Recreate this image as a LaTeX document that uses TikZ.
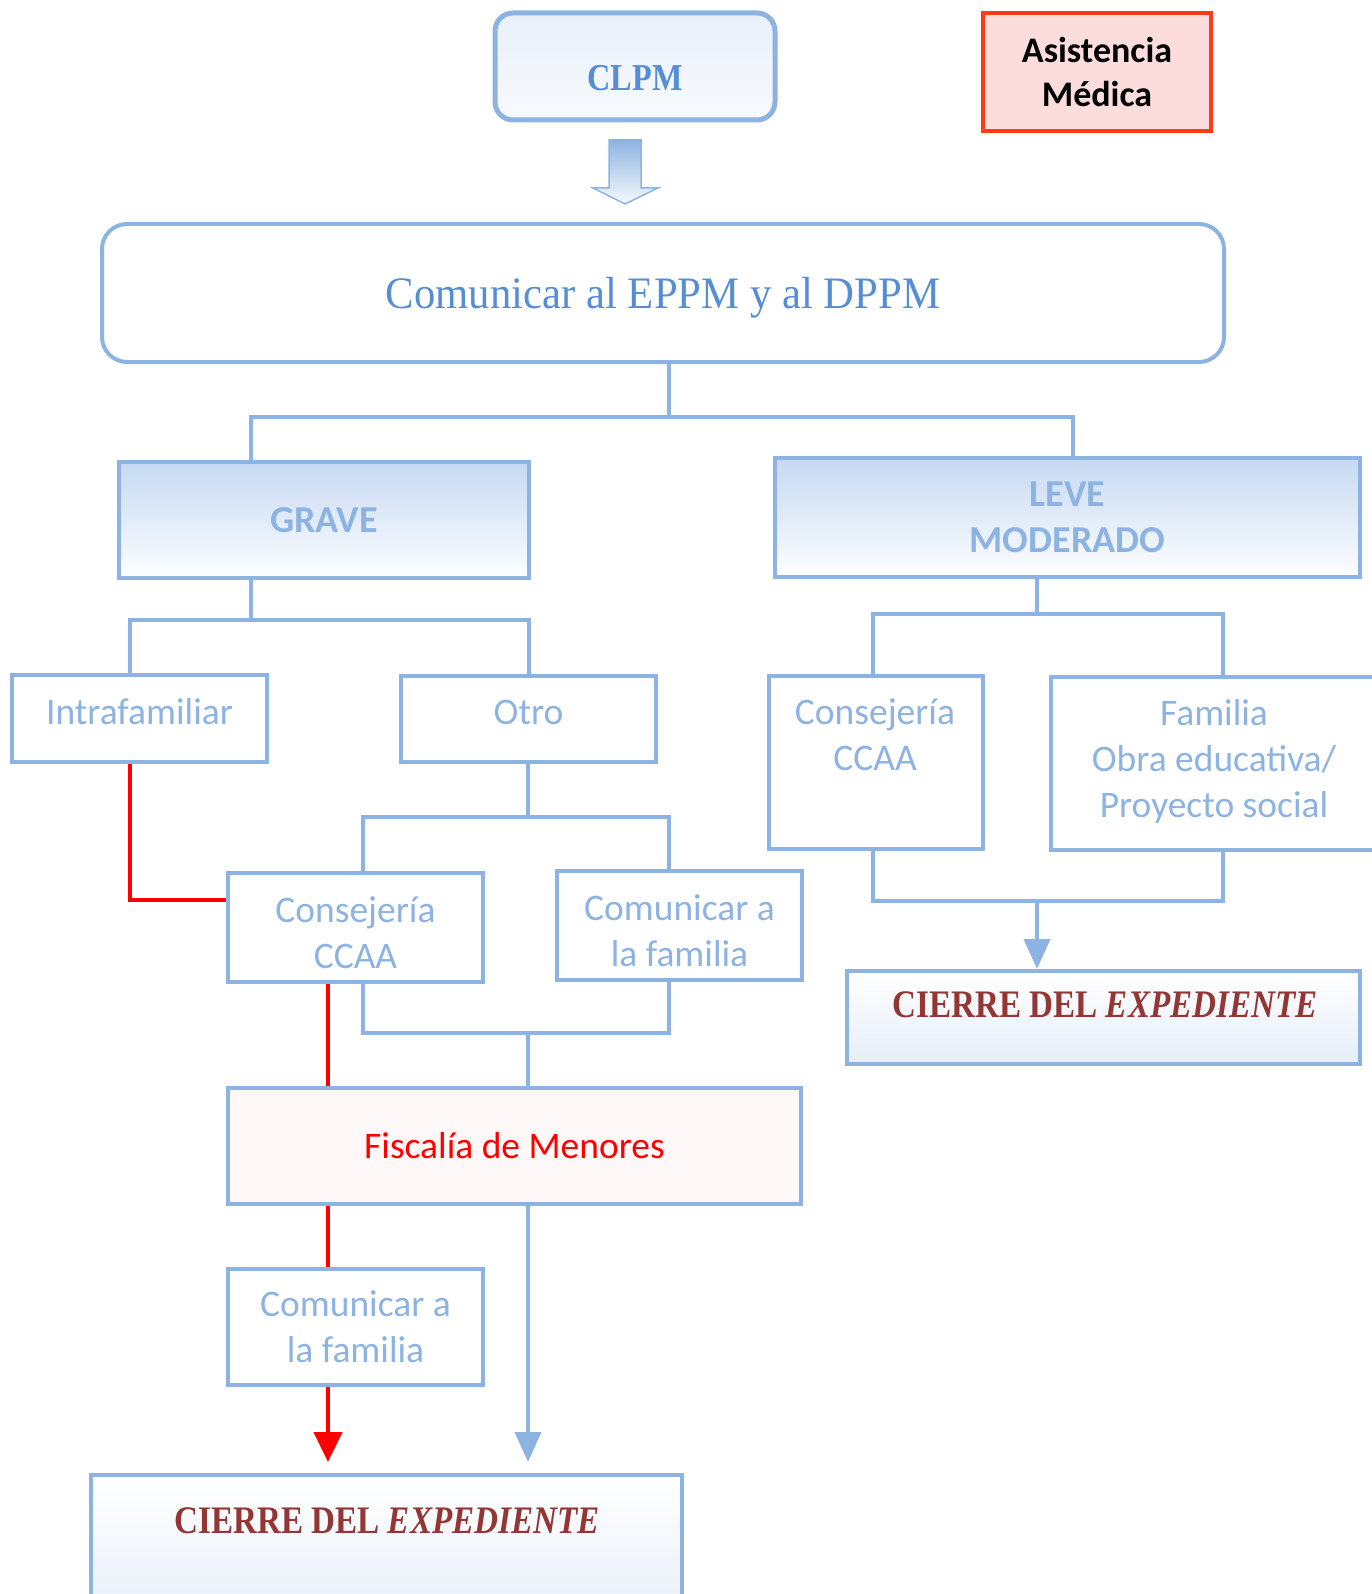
\documentclass[tikz,border=0pt]{standalone}
\usepackage{fontspec}
\usetikzlibrary{arrows.meta,calc}
\newfontfamily\sansf{Carlito}
\newfontfamily\seriff[FakeStretch=0.85]{Liberation Serif}
\newfontfamily\serifr[FakeStretch=0.95]{Liberation Serif}
\definecolor{bl}{HTML}{8DB3E2}
\definecolor{tb}{HTML}{558ED5}
\definecolor{dred}{HTML}{943634}
\definecolor{asisb}{HTML}{FF3A17}
\definecolor{asisf}{HTML}{FDDCDC}
\definecolor{fiscf}{HTML}{FFF8F8}
\definecolor{gtop}{HTML}{C6D9F1}
\begin{document}
\begin{tikzpicture}[x=1pt,y=-1pt,
  box/.style={draw=bl, line width=4pt, inner sep=0pt, align=center,
    font=\sansf\fontsize{37.5}{46}\selectfont, text=bl, fill=white},
  hdr/.style={box, top color=gtop, bottom color=white!97!gtop,
    font=\sansf\bfseries\fontsize{38}{46}\selectfont},
  cierre/.style={box, shading angle=45, top color=white, bottom color=gtop!45!white},
  ctext/.style={font=\seriff\bfseries\fontsize{39}{46}\selectfont, text=dred, inner sep=0pt},
  btext/.style={font=\sansf\fontsize{37.5}{46}\selectfont, text=bl, align=center, inner sep=0pt},
  conn/.style={draw=bl, line width=4pt},
  redl/.style={draw=red, line width=4.5pt},
  tipb/.style={-{Triangle[width=26pt,length=30pt]}},
  tipr/.style={-{Triangle[width=28pt,length=30pt]}}]
\useasboundingbox (0,0) rectangle (1372,1594);
\clip (0,0) rectangle (1372,1594);

% top
\node[box, rounded corners=18pt, line width=5pt, minimum width=280pt, minimum height=107pt,
  top color=gtop!40!white, bottom color=gtop!12!white] (clpm) at (635,66.5) {};
\node[font=\seriff\bfseries\fontsize{38}{46}\selectfont, text=tb, inner sep=0pt] (tclpm) at (635,78) {CLPM};
\shade[top color=bl, bottom color=bl!8!white, draw=bl, line width=1.5pt]
  (609,140) -- (641,140) -- (641,188) -- (658,188) -- (625,204) -- (593,188) -- (609,188) -- cycle;

\node[draw=asisb, line width=3.5pt, fill=asisf, minimum width=228pt, minimum height=118pt,
  inner sep=0pt, align=center, font=\sansf\bfseries\fontsize{36}{44}\selectfont] (asis) at (1097,72)
  {Asistencia\\Médica};

\node[box, rounded corners=25pt, minimum width=1122pt, minimum height=138pt] (com) at (663,293) {};
\node[font=\serifr\fontsize{45}{56}\selectfont, text=tb, inner sep=0pt] (tcom) at (663,298) {Comunicar al EPPM y al DPPM};

% level 2
\node[hdr, minimum width=410pt, minimum height=116pt] (grave) at (324,520) {GRAVE};
\node[hdr, minimum width=585pt, minimum height=119pt] (leve) at (1067.5,517.5) {LEVE\\MODERADO};

\coordinate (j1) at (669,417);
\coordinate (gx) at (251,0);
\coordinate (lx) at (1073,0);
\draw[conn] (com.south -| j1) -- (j1);
\draw[conn] (grave.north -| gx) |- (j1) -| (leve.north -| lx);

% grave branch
\node[box, minimum width=255pt, minimum height=87pt, text depth=14pt] (intra) at (139.5,718.5) {Intrafamiliar};
\node[box, minimum width=255pt, minimum height=86pt, text depth=14pt] (otro) at (528.5,719) {Otro};
\coordinate (j2) at (251,620);
\coordinate (ix) at (130,0);
\coordinate (ox) at (529,0);
\draw[conn] (grave.south -| j2) -- (j2);
\draw[conn] (intra.north -| ix) |- (j2) -| (otro.north -| ox);

\node[box, minimum width=255pt, minimum height=109pt] (cons1) at (355.5,927.5) {};
\node[btext] (tcons1) at (355.5,932.5) {Consejería\\CCAA};
\node[box, minimum width=245pt, minimum height=109pt] (fam1) at (679.5,925.5) {};
\node[btext] (tfam1) at (679.5,930.5) {Comunicar a\\la familia};
\coordinate (j3) at (528,817);
\coordinate (c1x) at (363,0);
\coordinate (f1x) at (669,0);
\draw[conn] (otro.south -| j3) -- (j3);
\draw[conn] (cons1.north -| c1x) |- (j3) -| (fam1.north -| f1x);

\node[box, fill=fiscf, text=red, minimum width=573pt, minimum height=116pt] (fisc) at (514.5,1146) {Fiscalía de Menores};
\coordinate (j4) at (528,1033);
\draw[conn] (cons1.south -| c1x) |- (j4) -| (fam1.south -| f1x);
\draw[conn] (j4) -- (fisc.north -| j4);

\node[box, minimum width=255pt, minimum height=116pt] (fam2) at (355.5,1327) {Comunicar a\\la familia};

\node[cierre, minimum width=591pt, minimum height=165pt] (cierre1) at (386.5,1557.5) {};
\node[ctext] (tcierre1) at (387,1521) {CIERRE DEL \textit{EXPEDIENTE}};

% red path
\coordinate (r1) at (130,900);
\coordinate (rx) at (328,0);
\coordinate (rtip) at (328,1462);
\coordinate (btip) at (528,1462);
\draw[redl] (intra.south -| r1) |- (cons1.west |- r1);
\draw[redl] (cons1.south -| rx) -- (fisc.north -| rx);
\draw[redl] (fisc.south -| rx) -- (fam2.north -| rx);
\draw[redl, tipr] (fam2.south -| rx) -- (rtip);
\draw[conn, tipb] (fisc.south -| j4) -- (btip);

% leve branch
\node[box, minimum width=214pt, minimum height=173pt] (cons2) at (876,762.5) {};
\node[btext] (tcons2) at (875,735) {Consejería\\CCAA};
\node[box, minimum width=349pt, minimum height=173pt] (fam3) at (1225.5,763.5) {};
\node[btext] (tfam3) at (1214,761) {Familia\\Obra educativa/\\Proyecto social};
\coordinate (j5) at (1037,614);
\coordinate (c2x) at (873,0);
\coordinate (f3x) at (1223,0);
\draw[conn] (leve.south -| j5) -- (j5);
\draw[conn] (cons2.north -| c2x) |- (j5) -| (fam3.north -| f3x);

\node[cierre, minimum width=513pt, minimum height=93pt] (cierre2) at (1103.5,1017.5) {};
\node[ctext] (tcierre2) at (1105,1005) {CIERRE DEL \textit{EXPEDIENTE}};
\coordinate (j6) at (1037,901);
\draw[conn] (cons2.south -| c2x) |- (j6) -| (fam3.south -| f3x);
\draw[conn, tipb] (j6) -- (cierre2.north -| j6);
\end{tikzpicture}
\end{document}
